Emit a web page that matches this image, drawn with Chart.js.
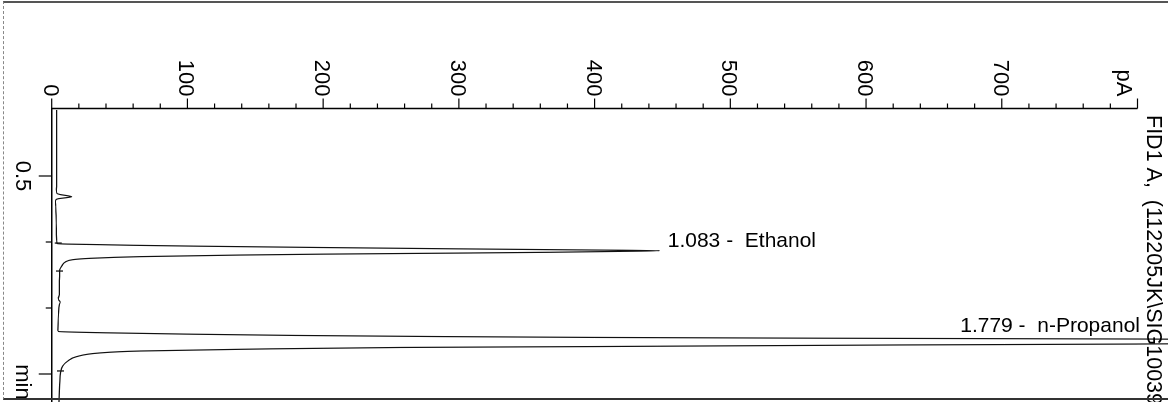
<!DOCTYPE html>
<html><head><meta charset="utf-8">
<script src="https://cdn.jsdelivr.net/npm/chart.js@4.4.1/dist/chart.umd.min.js"></script>
<style>
html,body{margin:0;padding:0;background:#fff;overflow:hidden;}
#wrap{position:relative;width:1168px;height:402px;overflow:hidden;background:#fff;}
#c{position:absolute;left:0;top:0;transform-origin:0 0;transform:translate(1168px,0) rotate(90deg);}
#frame{position:absolute;left:3px;top:1px;width:1170px;height:395px;border-top:2px solid #555;border-left:1px dashed #888;border-bottom:2px solid #333;pointer-events:none;}
</style></head><body>
<div id="wrap"><canvas id="c" width="460" height="1168"></canvas><div id="frame"></div></div>
<script>
// ---- data (time in min, signal in pA) ----
const timeMin = [0.000,0.150,0.300,0.450,0.560,0.600,0.630,0.640,0.650,0.657,0.664,0.672,0.682,0.700,0.730,0.800,0.900,0.980,1.005,
  1.012,1.016,1.020,1.025,1.032,1.042,1.052,1.060,1.066,
  1.071,1.078,1.084,1.092,1.099,1.111,1.124,1.134,1.152,1.182,1.212,
  1.260,1.330,1.400,1.425,1.440,1.455,1.475,1.550,1.620,1.670,
  1.678,1.688,1.698,1.708,1.716,1.723,1.729,1.735,1.754,
  1.773,1.780,1.792,1.799,1.813,1.826,1.841,1.869,1.902,1.939,1.985,2.083,2.182,2.350,2.500];
const signalPA = [3.7,3.6,3.6,3.7,3.7,3.5,3.7,6,12,14.7,11,5,3.0,2.8,3.0,3.3,3.4,3.6,3.8,
  4.2,12,35,60,110,200,300,390,448,
  420,367,300,200,138,65,28,15.5,10,7.4,5.9,
  5.8,5.6,5.6,4.9,5.2,6.3,5.6,5.0,4.7,4.6,
  5,40,100,180,280,400,570,800,930,
  800,625,404,257,139,65,35,18.2,11.8,8.1,6.6,5.9,5.5,5.2,5.0];
const peakRT = [1.083, 1.779];
const peakNames = ['Ethanol', 'n-Propanol'];
const markerTime = [1.008, 1.220, 1.977];
const markerPA = [4.8, 5.8, 6.5];
const pATickValues = [0,100,200,300,400,500,600,700];
const pATickLabels = ['0','100','200','300','400','500','600','700'];
const pAUnit = 'pA';
const pAMax = 800, pAMinorStep = 20, pAMajorStep = 100;
const timeTickValues = [0.5, 1.0, 1.5, 2.0];
const timeTickLabels = ['0.5', '', '', 'min'];
const timeMaxShown = 2.5;
const titleText = 'FID1 A,  (112205JK\\SIG10039.D)';

// ---- styles ----
const FONT = "'Liberation Sans', Arial, sans-serif";
const timeTickMajor = [true, false, false, true];
const timeLabelShift = [0, 0, 0, 8];

const axisPlugin = {
  id: 'chemAxes',
  afterDraw(chart) {
    const {ctx, chartArea: ca, scales} = chart;
    const xs = scales.x, ys = scales.y;
    const ax = ca.left - 1.5;
    const av = ys.getPixelForValue(0);
    ctx.save();
    ctx.strokeStyle = '#000'; ctx.fillStyle = '#000';
    ctx.lineWidth = 1.5;
    ctx.beginPath();
    ctx.moveTo(ax, ys.getPixelForValue(pAMax));
    ctx.lineTo(ax, av);
    ctx.lineTo(chart.width, av);
    ctx.stroke();
    ctx.lineWidth = 1.2;
    for (let v = 0; v <= pAMax + 1e-9; v += pAMinorStep) {
      const py = ys.getPixelForValue(v);
      const major = Math.abs(v % pAMajorStep) < 1e-6;
      ctx.beginPath(); ctx.moveTo(ax, py); ctx.lineTo(ax - (major ? 10 : 5), py); ctx.stroke();
    }
    ctx.font = '22px ' + FONT; ctx.textAlign = 'right'; ctx.textBaseline = 'alphabetic';
    pATickValues.forEach((v, i) => {
      ctx.fillText(pATickLabels[i], ax - 12, ys.getPixelForValue(v) + 8);
    });
    ctx.fillText(pAUnit, ax - 12, ys.getPixelForValue(pAMax) + 20);
    // time axis
    ctx.textAlign = 'center';
    timeTickValues.forEach((t, i) => {
      const px = xs.getPixelForValue(t);
      ctx.beginPath(); ctx.moveTo(px, av); ctx.lineTo(px, av + (timeTickMajor[i] ? 13 : 6)); ctx.stroke();
      if (timeTickLabels[i]) ctx.fillText(timeTickLabels[i], px + timeLabelShift[i], av + 36);
    });
    // title
    ctx.font = '21.5px ' + FONT; ctx.textAlign = 'left';
    ctx.fillText(titleText, 115, 21);
    // peak labels
    ctx.font = '21px ' + FONT;
    peakRT.forEach((rt, k) => {
      let bi = -1;
      for (let i = 0; i < timeMin.length; i++) {
        if (Math.abs(timeMin[i] - rt) < 0.06 && (bi < 0 || signalPA[i] > signalPA[bi])) bi = i;
      }
      const label = rt.toFixed(3) + ' -  ' + peakNames[k];
      const pu = xs.getPixelForValue(timeMin[bi]);
      const pv = ys.getPixelForValue(signalPA[bi]);
      const w = ctx.measureText(label).width;
      ctx.save();
      if (pv - 8 - w > 0 && signalPA[bi] <= pAMax) {
        ctx.translate(pu - 4, pv - 8); ctx.rotate(-Math.PI / 2);
        ctx.textAlign = 'left'; ctx.fillText(label, 0, 0);
      } else {
        ctx.translate(pu - 10, ca.top - 2.5); ctx.rotate(-Math.PI / 2);
        ctx.textAlign = 'right'; ctx.fillText(label, 0, 0);
      }
      ctx.restore();
    });
    ctx.restore();
  }
};

new Chart(document.getElementById('c'), {
  type: 'scatter',
  data: {
    datasets: [
      {
        data: timeMin.map((t, i) => ({x: t, y: signalPA[i]})),
        showLine: true, borderColor: '#111', borderWidth: 1.2,
        pointRadius: 0, cubicInterpolationMode: 'monotone', clip: false
      },
      {
        data: markerTime.map((t, i) => ({x: t, y: markerPA[i]})),
        showLine: false, pointStyle: 'line', pointRadius: 3.5, pointRotation: 90,
        borderColor: '#000', pointBorderColor: '#000', pointBorderWidth: 1.2, clip: false
      }
    ]
  },
  options: {
    responsive: false, animation: false, devicePixelRatio: 1,
    layout: {padding: {left: 110, right: 20, top: 30.5, bottom: 51.7}},
    plugins: {legend: {display: false}, tooltip: {enabled: false}},
    scales: {
      x: {type: 'linear', min: 0, max: timeMaxShown, display: false},
      y: {type: 'linear', min: 0, max: pAMax, display: false}
    }
  },
  plugins: [axisPlugin]
});
</script></body></html>
